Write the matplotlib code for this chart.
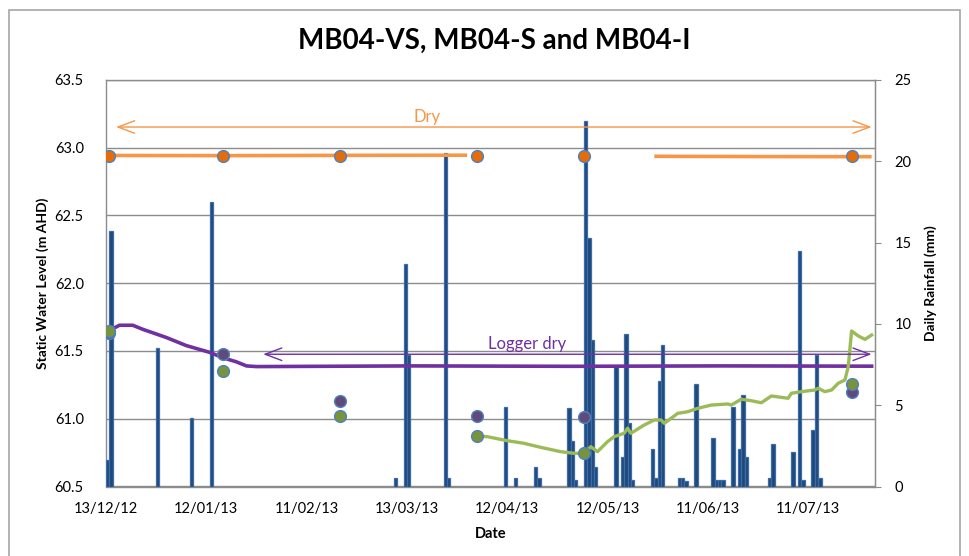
import matplotlib
matplotlib.use("Agg")
import matplotlib.pyplot as plt
import matplotlib.dates as mdates
import pandas as pd
from matplotlib.patches import Rectangle

plt.rcParams['font.family'] = ['Lato', 'DejaVu Sans']

# ---------------- data ----------------
title = "MB04-VS, MB04-S and MB04-I"

# Daily rainfall (mm)
rain_dates = ['2012-12-13', '2012-12-14', '2012-12-28', '2013-01-07', '2013-01-13',
              '2013-03-09', '2013-03-12', '2013-03-13', '2013-03-24', '2013-03-25',
              '2013-04-11', '2013-04-14', '2013-04-20', '2013-04-21',
              '2013-04-30', '2013-05-01', '2013-05-02',
              '2013-05-05', '2013-05-06', '2013-05-07', '2013-05-08',
              '2013-05-14', '2013-05-16', '2013-05-17', '2013-05-18', '2013-05-19',
              '2013-05-25', '2013-05-26', '2013-05-27', '2013-05-28',
              '2013-06-02', '2013-06-03', '2013-06-04', '2013-06-07',
              '2013-06-12', '2013-06-13', '2013-06-14', '2013-06-15',
              '2013-06-18', '2013-06-20', '2013-06-21', '2013-06-22',
              '2013-06-29', '2013-06-30', '2013-07-06', '2013-07-08', '2013-07-09',
              '2013-07-12', '2013-07-13', '2013-07-14']
rain_mm = [1.6, 15.7, 8.5, 4.2, 17.5,
           0.5, 13.7, 8.1, 20.5, 0.5,
           4.9, 0.5, 1.2, 0.5,
           4.8, 2.8, 0.4,
           22.5, 15.3, 9.0, 1.2,
           7.4, 1.8, 9.4, 3.9, 0.4,
           2.3, 0.5, 6.5, 8.7,
           0.5, 0.5, 0.35, 6.3,
           3.0, 0.4, 0.4, 0.4,
           4.9, 2.3, 5.6, 1.8,
           0.5, 2.6, 2.1, 14.5, 0.4,
           3.5, 8.1, 0.5]

# Manual monitoring rounds (m AHD)
dip_dates = ['2012-12-14', '2013-01-17', '2013-02-21', '2013-04-03', '2013-05-05', '2013-07-24']
vs_dip = [62.94, 62.94, 62.94, 62.94, 62.94, 62.94]
s_dip = [61.63, 61.48, 61.13, 61.02, 61.01, 61.20]
i_dip = [61.65, 61.35, 61.02, 60.87, 60.745, 61.26]

# Logger records (m AHD)
vs_log1_dates = ['2012-12-14', '2013-01-20', '2013-02-25', '2013-03-31']
vs_log1 = [62.943, 62.942, 62.944, 62.945]
vs_log2_dates = ['2013-05-26', '2013-06-25', '2013-07-30']
vs_log2 = [62.937, 62.935, 62.934]

s_log_dates = ['2012-12-14', '2012-12-17', '2012-12-21', '2012-12-24', '2012-12-31',
               '2013-01-06', '2013-01-13', '2013-01-17', '2013-01-21', '2013-01-24',
               '2013-01-27', '2013-03-15', '2013-05-01', '2013-06-15', '2013-07-30']
s_log = [61.65, 61.69, 61.69, 61.66, 61.60,
         61.54, 61.49, 61.45, 61.42, 61.39,
         61.385, 61.39, 61.387, 61.39, 61.388]

i_log_dates = ['2013-04-02', '2013-04-06', '2013-04-12', '2013-04-17', '2013-04-22',
               '2013-04-28', '2013-05-02', '2013-05-05', '2013-05-07', '2013-05-09',
               '2013-05-12', '2013-05-14', '2013-05-17', '2013-05-18', '2013-05-19',
               '2013-05-23', '2013-05-26', '2013-05-28', '2013-05-29', '2013-06-02',
               '2013-06-05', '2013-06-08', '2013-06-12', '2013-06-17', '2013-06-18',
               '2013-06-21', '2013-06-24', '2013-06-27', '2013-06-30', '2013-07-03',
               '2013-07-05', '2013-07-06', '2013-07-09', '2013-07-13', '2013-07-14',
               '2013-07-16', '2013-07-18', '2013-07-20', '2013-07-22', '2013-07-23',
               '2013-07-24', '2013-07-26', '2013-07-28', '2013-07-30']
i_log = [60.873, 60.868, 60.838, 60.819, 60.789,
         60.757, 60.745, 60.745, 60.794, 60.757,
         60.831, 60.868, 60.893, 60.930, 60.893,
         60.954, 60.991, 60.991, 60.966, 61.040,
         61.052, 61.077, 61.101, 61.109, 61.101,
         61.144, 61.133, 61.118, 61.168, 61.158,
         61.151, 61.188, 61.200, 61.212, 61.225,
         61.200, 61.212, 61.262, 61.286, 61.384,
         61.648, 61.611, 61.586, 61.618]

# Annotation spans
dry_span = ['2012-12-16', '2013-07-30']
dry_level = 63.153
dry_text_pos = ('2013-03-19', 63.227)
logger_dry_span = ['2013-01-29', '2013-07-30']
logger_dry_level = 61.476
logger_dry_text_pos = ('2013-04-18', 61.55)

tick_dates = ['2012-12-13', '2013-01-12', '2013-02-11', '2013-03-13',
              '2013-04-12', '2013-05-12', '2013-06-11', '2013-07-11']
x_range = ['2012-12-13', '2013-07-31']

# ---------------- styling ----------------
ORANGE_LINE = '#F79646'
ORANGE_PT = '#E46C0A'
PURPLE_LINE = '#7030A0'
PURPLE_PT = '#604A7B'
GREEN_LINE = '#9BBB59'
GREEN_PT = '#77933C'
PT_EDGE = '#4F81BD'
BAR = '#1F497D'
GRID = '#8C8C8C'
TICK_FS = 10.5

D = pd.to_datetime

fig = plt.figure(figsize=(9.69, 5.56), dpi=100)
ax = fig.add_axes([106 / 969, 69.5 / 556, (875 - 106) / 969, (486.5 - 80) / 556])
ax2 = ax.twinx()   # rainfall
ax3 = ax.twinx()   # water levels, drawn above the bars

# primary axis: levels, grid
ax.set_ylim(60.5, 63.5)
ax.set_yticks([60.5, 61.0, 61.5, 62.0, 62.5, 63.0, 63.5])
ax.yaxis.set_major_formatter(matplotlib.ticker.FormatStrFormatter('%.1f'))
ax.grid(axis='y', color=GRID, lw=1)
ax.set_axisbelow(True)
ax.set_xlim(D(x_range[0]), D(x_range[1]))
ax.set_xticks(D(tick_dates))
ax.xaxis.set_major_formatter(mdates.DateFormatter('%d/%m/%y'))
ax.tick_params(axis='both', length=0, labelsize=TICK_FS)
ax.tick_params(axis='y', pad=16)
ax.tick_params(axis='x', pad=11)
for s in ['left', 'bottom', 'top', 'right']:
    ax.spines[s].set_color(GRID)
    ax.spines[s].set_linewidth(1)
ax.set_ylabel('Static Water Level (m AHD)', fontweight='bold', fontsize=10, labelpad=4)
ax.set_xlabel('Date', fontweight='bold', fontsize=10.5, labelpad=8)

# rainfall bars
ax2.bar(D(rain_dates), rain_mm, width=1.0, align='edge', color=BAR,
        edgecolor='#3E6CA6', linewidth=0.9)
ax2.set_ylim(0, 25)
ax2.set_yticks([0, 5, 10, 15, 20, 25])
ax2.tick_params(axis='y', length=4, color=GRID, labelsize=TICK_FS, pad=10)
for s in ['left', 'bottom', 'top']:
    ax2.spines[s].set_visible(False)
ax2.spines['right'].set_color(GRID)
ax2.set_ylabel('Daily Rainfall (mm)', fontweight='bold', fontsize=10, labelpad=9)

# water levels
ax3.set_ylim(60.5, 63.5)
ax3.yaxis.set_visible(False)
for s in ax3.spines.values():
    s.set_visible(False)

ax3.plot(D(vs_log1_dates), vs_log1, color=ORANGE_LINE, lw=2.6, solid_capstyle='butt')
ax3.plot(D(vs_log2_dates), vs_log2, color=ORANGE_LINE, lw=2.6, solid_capstyle='butt')
ax3.plot(D(s_log_dates), s_log, color=PURPLE_LINE, lw=2.6)
ax3.plot(D(i_log_dates), i_log, color=GREEN_LINE, lw=2.4)

mk = dict(ls='none', marker='o', ms=8.5, mec=PT_EDGE, mew=1.0)
ax3.plot(D(dip_dates), vs_dip, mfc=ORANGE_PT, **mk)
ax3.plot(D(dip_dates), s_dip, mfc=PURPLE_PT, **mk)
ax3.plot(D(dip_dates), i_dip, mfc=GREEN_PT, **mk)

# annotations
arrow_style = '<->,head_length=1.2,head_width=0.45'
ax3.annotate('', xy=(D(dry_span[0]), dry_level), xytext=(D(dry_span[1]), dry_level),
             arrowprops=dict(arrowstyle=arrow_style,
                             color=ORANGE_LINE, lw=1.0, shrinkA=0, shrinkB=0))
ax3.text(D(dry_text_pos[0]), dry_text_pos[1], 'Dry', color=ORANGE_LINE,
         fontsize=12, ha='center', va='center')
ax3.annotate('', xy=(D(logger_dry_span[0]), logger_dry_level),
             xytext=(D(logger_dry_span[1]), logger_dry_level),
             arrowprops=dict(arrowstyle=arrow_style,
                             color=PURPLE_LINE, lw=1.0, shrinkA=0, shrinkB=0))
ax3.text(D(logger_dry_text_pos[0]), logger_dry_text_pos[1], 'Logger dry',
         color=PURPLE_LINE, fontsize=12, ha='center', va='center')

fig.text(494 / 969, 1 - 41 / 556, title, ha='center', va='center',
         fontsize=20, fontweight='bold')

# chart area border
fig.patches.append(Rectangle((9 / 969, -0.05), (960 - 9) / 969, 1.05 - 10 / 556,
                             transform=fig.transFigure, fill=False,
                             edgecolor='#A6A6A6', lw=1.2))

fig.savefig('out.png', dpi=100)
